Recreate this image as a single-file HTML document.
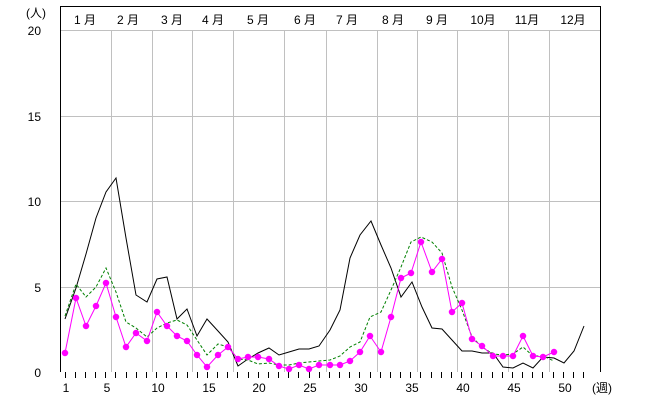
<!DOCTYPE html>
<html><head><meta charset="utf-8"><style>
html,body{margin:0;padding:0;background:#fff;}
svg{display:block;font-family:"Liberation Sans","Noto Sans CJK JP",sans-serif;}
</style></head><body>
<svg width="652" height="419" viewBox="0 0 652 419" xmlns="http://www.w3.org/2000/svg">
<rect width="652" height="419" fill="#fff"/>
<g stroke="#c0c0c0" stroke-width="1">
<line x1="60" y1="30.5" x2="601" y2="30.5"/>
<line x1="60" y1="116.5" x2="601" y2="116.5"/>
<line x1="60" y1="201.5" x2="601" y2="201.5"/>
<line x1="60" y1="287.5" x2="601" y2="287.5"/>
<line x1="111.5" y1="30" x2="111.5" y2="372"/>
<line x1="152.5" y1="30" x2="152.5" y2="372"/>
<line x1="192.5" y1="30" x2="192.5" y2="372"/>
<line x1="233.5" y1="30" x2="233.5" y2="372"/>
<line x1="284.5" y1="30" x2="284.5" y2="372"/>
<line x1="326.5" y1="30" x2="326.5" y2="372"/>
<line x1="377.5" y1="30" x2="377.5" y2="372"/>
<line x1="417.5" y1="30" x2="417.5" y2="372"/>
<line x1="457.5" y1="30" x2="457.5" y2="372"/>
<line x1="508.5" y1="30" x2="508.5" y2="372"/>
<line x1="549.5" y1="30" x2="549.5" y2="372"/>
</g>
<g stroke="#000" stroke-width="1" fill="none">
<polyline points="60.5,372 60.5,6.5 600.5,6.5 600.5,372"/>
<path d="M65.5 372v6M75.5 372v6M85.5 372v6M95.5 372v6M105.5 372v6M115.5 372v6M126.5 372v6M136.5 372v6M146.5 372v6M156.5 372v6M166.5 372v6M176.5 372v6M187.5 372v6M197.5 372v6M207.5 372v6M217.5 372v6M227.5 372v6M237.5 372v6M248.5 372v6M258.5 372v6M268.5 372v6M278.5 372v6M288.5 372v6M298.5 372v6M309.5 372v6M319.5 372v6M329.5 372v6M339.5 372v6M349.5 372v6M359.5 372v6M370.5 372v6M380.5 372v6M390.5 372v6M400.5 372v6M410.5 372v6M420.5 372v6M431.5 372v6M441.5 372v6M451.5 372v6M461.5 372v6M471.5 372v6M481.5 372v6M492.5 372v6M502.5 372v6M512.5 372v6M522.5 372v6M532.5 372v6M542.5 372v6M553.5 372v6M563.5 372v6M573.5 372v6M583.5 372v6"/>
</g>
<g font-size="12" fill="#000" text-anchor="middle">
<text x="85" y="24">1 月</text><text x="128" y="24">2 月</text><text x="172" y="24">3 月</text>
<text x="213" y="24">4 月</text><text x="258" y="24">5 月</text><text x="305" y="24">6 月</text>
<text x="347" y="24">7 月</text><text x="393" y="24">8 月</text><text x="437" y="24">9 月</text>
<text x="483" y="24">10月</text><text x="527" y="24">11月</text><text x="573" y="24">12月</text>
</g>
<g font-size="12" fill="#000" text-anchor="end">
<text x="46" y="17">(人)</text>
<text x="41" y="35">20</text><text x="41" y="121">15</text><text x="41" y="206">10</text>
<text x="41" y="292">5</text><text x="41" y="377">0</text>
</g>
<g font-size="12" fill="#000" text-anchor="middle">
<text x="66" y="392">1</text><text x="107" y="392">5</text><text x="158" y="392">10</text>
<text x="209" y="392">15</text><text x="259" y="392">20</text><text x="310" y="392">25</text>
<text x="361" y="392">30</text><text x="412" y="392">35</text><text x="463" y="392">40</text>
<text x="514" y="392">45</text><text x="565" y="392">50</text><text x="602" y="392">(週)</text>
</g>
<polyline fill="none" stroke="#000" stroke-width="1" points="65,319 76,288 86,254 96,218 106,192 116,178 126,238 136,295 147,302 157,279 167,277 177,319 187,309 197,336 207,319 218,331 228,342 238,366 248,359 258,353 269,348 279,355 289,352 299,349 309,349 319,346 330,330 340,310 350,258 360,235 371,221 381,245 391,268 401,297 412,282 422,307 432,328 442,329 452,340 462,351 472,351 482,353 493,353 503,367 513,368 523,363 533,368 543,357 554,358 564,363 574,351 584,326"/>
<polyline fill="none" stroke="#008000" stroke-width="1" stroke-dasharray="3,2" points="65,316 76,284 86,297 96,287 106,268 116,292 126,322 136,328 147,337 157,328 167,323 177,320 187,325 197,340 207,355 218,344 228,347 238,359 248,360 258,364 269,363 279,365 289,365 299,363 309,362 319,361 330,360 340,356 350,347 360,342 370,317 381,312 391,290 401,267 411,242 421,237 432,242 442,253 452,287 462,310 472,337 482,347 493,354 503,355 513,354 523,347 533,356 543,356 554,361"/>
<polyline fill="none" stroke="#ff00ff" stroke-width="1" points="65,353 76,298 86,326 96,306 106,283 116,317 126,347 136,333 147,341 157,312 167,326 177,336 187,341 197,355 207,367 218,355 228,347 238,359 248,357 258,357 269,359 279,366 289,369 299,365 309,369 319,365 330,365 340,365 350,361 360,352 370,336 381,352 391,317 401,278 411,273 421,242 432,272 442,259 452,312 462,303 472,339 482,346 493,356 503,356 513,356 523,336 533,356 543,357 554,352"/>
<path fill="none" stroke="#ff00ff" stroke-width="6.5" stroke-linecap="round" d="M65 353h0M76 298h0M86 326h0M96 306h0M106 283h0M116 317h0M126 347h0M136 333h0M147 341h0M157 312h0M167 326h0M177 336h0M187 341h0M197 355h0M207 367h0M218 355h0M228 347h0M238 359h0M248 357h0M258 357h0M269 359h0M279 366h0M289 369h0M299 365h0M309 369h0M319 365h0M330 365h0M340 365h0M350 361h0M360 352h0M370 336h0M381 352h0M391 317h0M401 278h0M411 273h0M421 242h0M432 272h0M442 259h0M452 312h0M462 303h0M472 339h0M482 346h0M493 356h0M503 356h0M513 356h0M523 336h0M533 356h0M543 357h0M554 352h0"/>
</svg>
</body></html>
